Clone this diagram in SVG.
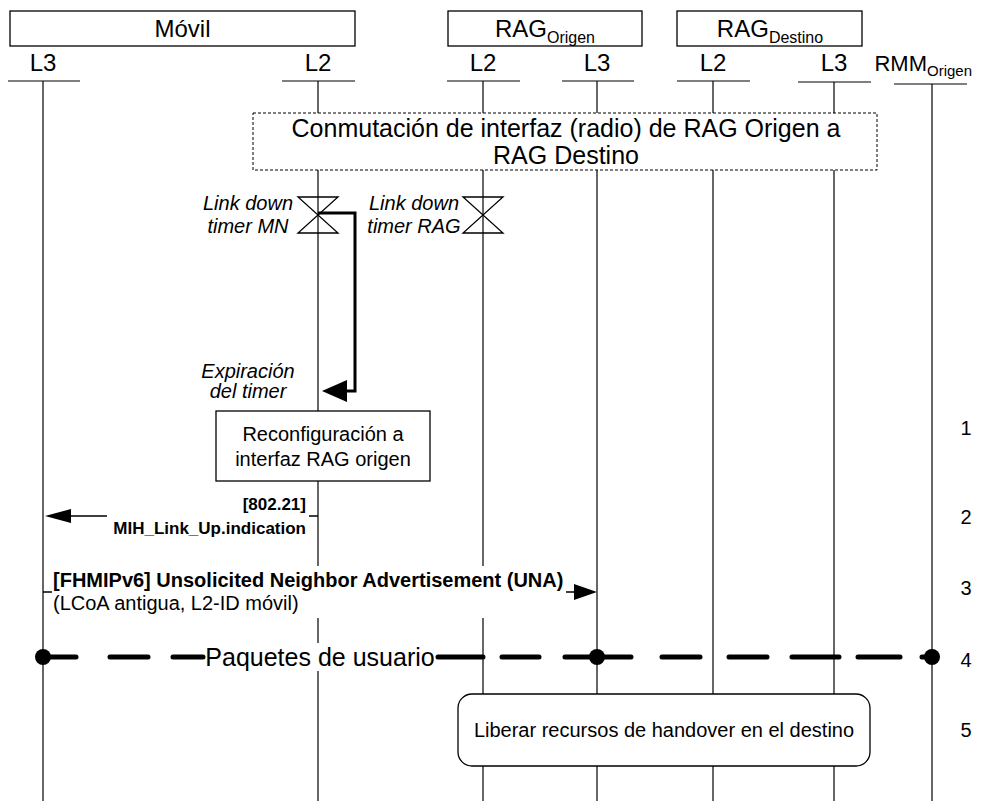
<svg xmlns="http://www.w3.org/2000/svg" width="984" height="801" viewBox="0 0 984 801">
<style>
text{font-family:"Liberation Sans",Arial,sans-serif;fill:#000}
.h{font-size:24px;text-anchor:middle}
.t25{font-size:25px;text-anchor:middle}
.sub{font-size:16px}
.life{stroke:#000;stroke-width:1.2;fill:none}
.tick{stroke:#000;stroke-width:1.2}
.box{fill:#fff;stroke:#000;stroke-width:1.3}
.dbox{fill:#fff;stroke:#000;stroke-width:1;stroke-dasharray:3 2}
.rbox{fill:#fff;stroke:#000;stroke-width:1.3}
.t20{font-size:20px}
.c{text-anchor:middle}
.e{text-anchor:end}
.it{font-style:italic}
.b{font-weight:bold}
.hg{fill:none;stroke:#000;stroke-width:1.3}
.msg{stroke:#000;stroke-width:1.5;fill:none}
.bg{fill:#fff}
.pk{stroke:#000;stroke-width:5;fill:none;stroke-linecap:round}
</style>

<g id="movil">
<rect class="box" x="10" y="11" width="345" height="35"/>
<text class="h" x="182.5" y="37">Móvil</text>
<text class="h" x="43" y="71">L3</text>
<text class="h" x="318" y="71">L2</text>
<line class="tick" x1="8" y1="81" x2="80" y2="81"/>
<line class="tick" x1="282" y1="81" x2="355" y2="81"/>
<line class="life" x1="43" y1="81" x2="43" y2="801"/>
<line class="life" x1="318" y1="81" x2="318" y2="801"/>
</g>

<g id="rag-origen">
<rect class="box" x="448" y="11" width="194" height="35"/>
<text class="h" x="545" y="37">RAG<tspan class="sub" dy="6">Origen</tspan></text>
<text class="h" x="483" y="71">L2</text>
<text class="h" x="597" y="71">L3</text>
<line class="tick" x1="447" y1="81" x2="520" y2="81"/>
<line class="tick" x1="562" y1="81" x2="634" y2="81"/>
<line class="life" x1="483" y1="81" x2="483" y2="801"/>
<line class="life" x1="597" y1="81" x2="597" y2="801"/>
</g>

<g id="rag-destino">
<rect class="box" x="677" y="11" width="185" height="35"/>
<text class="h" x="770" y="37">RAG<tspan class="sub" dy="6">Destino</tspan></text>
<text class="h" x="713" y="71">L2</text>
<text class="h" x="834" y="71">L3</text>
<line class="tick" x1="677" y1="81" x2="750" y2="81"/>
<line class="tick" x1="798" y1="82" x2="871" y2="82"/>
<line class="life" x1="713" y1="81" x2="713" y2="801"/>
<line class="life" x1="834" y1="82" x2="834" y2="801"/>
</g>

<g id="rmm-origen">
<text x="972" y="71" style="font-size:22px;text-anchor:end">RMM<tspan class="sub" style="font-size:15px" dy="5">Origen</tspan></text>
<line class="tick" x1="894" y1="84" x2="967" y2="84"/>
<line class="life" x1="932" y1="84" x2="932" y2="801"/>
</g>

<g id="conmutacion">
<rect class="dbox" x="253" y="113" width="624" height="57"/>
<text class="t25" x="566" y="137">Conmutación de interfaz (radio) de RAG Origen a</text>
<text class="t25" x="566" y="164">RAG Destino</text>
</g>

<g id="timer-mn">
<path class="hg" d="M298 197 H338 L298 233 H338 Z"/>
<text class="t20 it c" x="248" y="210">Link down</text>
<text class="t20 it c" x="248" y="233">timer MN</text>
</g>

<g id="timer-rag">
<path class="hg" d="M463 197 H503 L463 233 H503 Z"/>
<text class="t20 it c" x="414" y="210">Link down</text>
<text class="t20 it c" x="414" y="233">timer RAG</text>
</g>

<g id="expiracion">
<text class="t20 it c" x="248" y="378">Expiración</text>
<text class="t20 it c" x="248" y="398">del timer</text>
</g>

<g id="reconfig">
<rect class="box" x="216" y="411" width="214" height="70"/>
<text class="t20 c" x="323" y="441">Reconfiguración a</text>
<text class="t20 c" x="323" y="466">interfaz RAG origen</text>
</g>

<g id="label-bg">
<rect class="bg" x="50" y="566" width="518" height="52"/>
<rect class="bg" x="204" y="643" width="233" height="28"/>
</g>

<g id="liberar">
<rect class="rbox" x="458" y="694" width="412" height="72" rx="14"/>
<text class="t20 c" x="664" y="737">Liberar recursos de handover en el destino</text>
</g>

<g id="connectors">
<path d="M318 213 H355 V391 H345" stroke="#000" stroke-width="3" fill="none"/>
<polygon points="322,391 347,380 347,402" fill="#000"/>

<path class="msg" d="M318 516 H309 M107 516 H70"/>
<polygon points="45,516 71,509 71,523" fill="#000"/>
<text class="b e" style="font-size:17px" x="306" y="510">[802.21]</text>
<text class="b e" style="font-size:17px" x="306" y="534">MIH_Link_Up.indication</text>

<path class="msg" d="M43 592 H52 M566 592 H576"/>
<polygon points="597,592 574,584 574,600" fill="#000"/>
<text class="t20 b" x="53" y="587">[FHMIPv6] Unsolicited Neighbor Advertisement (UNA)</text>
<text class="t20" x="53" y="610">(LCoA antigua, L2-ID móvil)</text>

<path class="pk" d="M43 657 H76 M110 657 H148 M173 657 H203 M438 657 H483 M502 657 H539 M565 657 H631 M662 657 H700 M729 657 H767 M792 657 H839 M858 657 H900 M922 657 H932"/>
<circle cx="43" cy="657" r="8" fill="#000"/>
<circle cx="597" cy="657" r="8" fill="#000"/>
<circle cx="932" cy="657" r="8" fill="#000"/>
<text class="t25" x="320" y="666">Paquetes de usuario</text>
</g>

<g id="steps">
<text class="t20 c" x="966" y="435">1</text>
<text class="t20 c" x="966" y="524">2</text>
<text class="t20 c" x="966" y="595">3</text>
<text class="t20 c" x="966" y="667">4</text>
<text class="t20 c" x="966" y="737">5</text>
</g>
</svg>
